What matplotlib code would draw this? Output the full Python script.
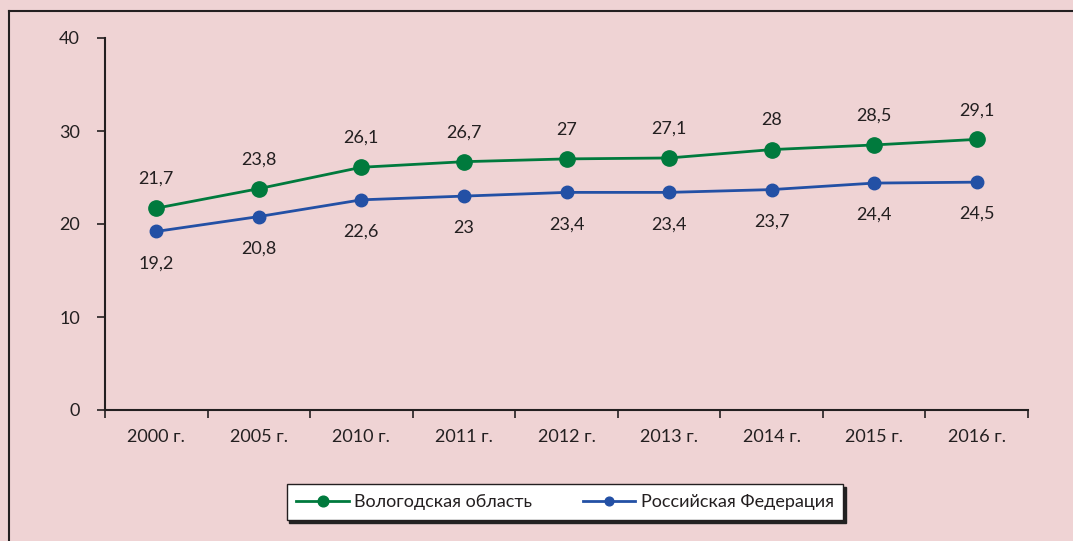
import matplotlib.pyplot as plt
from matplotlib.lines import Line2D

years = ['2000 г.', '2005 г.', '2010 г.', '2011 г.', '2012 г.', '2013 г.', '2014 г.', '2015 г.', '2016 г.']
vologda = [21.7, 23.8, 26.1, 26.7, 27.0, 27.1, 28.0, 28.5, 29.1]
russia = [19.2, 20.8, 22.6, 23.0, 23.4, 23.4, 23.7, 24.4, 24.5]
vologda_lbl = ['21,7', '23,8', '26,1', '26,7', '27', '27,1', '28', '28,5', '29,1']
russia_lbl = ['19,2', '20,8', '22,6', '23', '23,4', '23,4', '23,7', '24,4', '24,5']

bg = '#efd3d4'
txt = '#231f20'
green = '#007a3d'
blue = '#2350a5'

plt.rcParams['font.family'] = ['Lato', 'DejaVu Sans']
fs = 13

fig = plt.figure(figsize=(10.73, 5.41), dpi=100, facecolor=bg)
ax = fig.add_axes([105 / 1073, 131 / 541, 923 / 1073, 372 / 541])
ax.set_facecolor(bg)

x = list(range(len(years)))
ax.plot(x, vologda, color=green, lw=2, marker='o', ms=11, label='Вологодская область', zorder=3)
ax.plot(x, russia, color=blue, lw=2, marker='o', ms=9, label='Российская Федерация', zorder=3)

for i in x:
    ax.annotate(vologda_lbl[i], (i, vologda[i]), xytext=(0, 21), textcoords='offset points',
                ha='center', va='center', fontsize=fs, color=txt)
    ax.annotate(russia_lbl[i], (i, russia[i]), xytext=(0, -23), textcoords='offset points',
                ha='center', va='center', fontsize=fs, color=txt)

ax.set_xlim(-0.5, len(years) - 0.5)
ax.set_ylim(0, 40)
ax.set_yticks([0, 10, 20, 30, 40])
ax.set_xticks(x)
ax.set_xticklabels(years)
ax.set_xticks([i - 0.5 for i in range(len(years) + 1)], minor=True)
ax.tick_params(axis='x', which='major', length=0, pad=14, labelsize=fs, labelcolor=txt)
ax.tick_params(axis='x', which='minor', length=6, width=1.2, color=txt, direction='out')
ax.tick_params(axis='y', length=6, width=1.2, color=txt, pad=12, labelsize=fs, labelcolor=txt)
for s in ['top', 'right']:
    ax.spines[s].set_visible(False)
for s in ['left', 'bottom']:
    ax.spines[s].set_color(txt)
    ax.spines[s].set_linewidth(1.5)

leg = fig.legend(loc='center', bbox_to_anchor=(565 / 1073, 1 - 502 / 541), ncol=2,
                 fontsize=fs, frameon=True, fancybox=False, shadow={'color': '#222222', 'alpha': 1},
                 handlelength=2.9, handletextpad=0.3, columnspacing=2.8, borderpad=0.55,
                 markerscale=0.7)
leg.get_frame().set_edgecolor(txt)
leg.get_frame().set_linewidth(1)
for t in leg.get_texts():
    t.set_color(txt)

# outer frame (top and left edges)
fig.add_artist(Line2D([9 / 1073, 9 / 1073], [0, 1 - 11 / 541], transform=fig.transFigure, color=txt, lw=1.5))
fig.add_artist(Line2D([9 / 1073, 1], [1 - 11 / 541, 1 - 11 / 541], transform=fig.transFigure, color=txt, lw=1.5))

fig.savefig('out.png', dpi=100, facecolor=bg)
